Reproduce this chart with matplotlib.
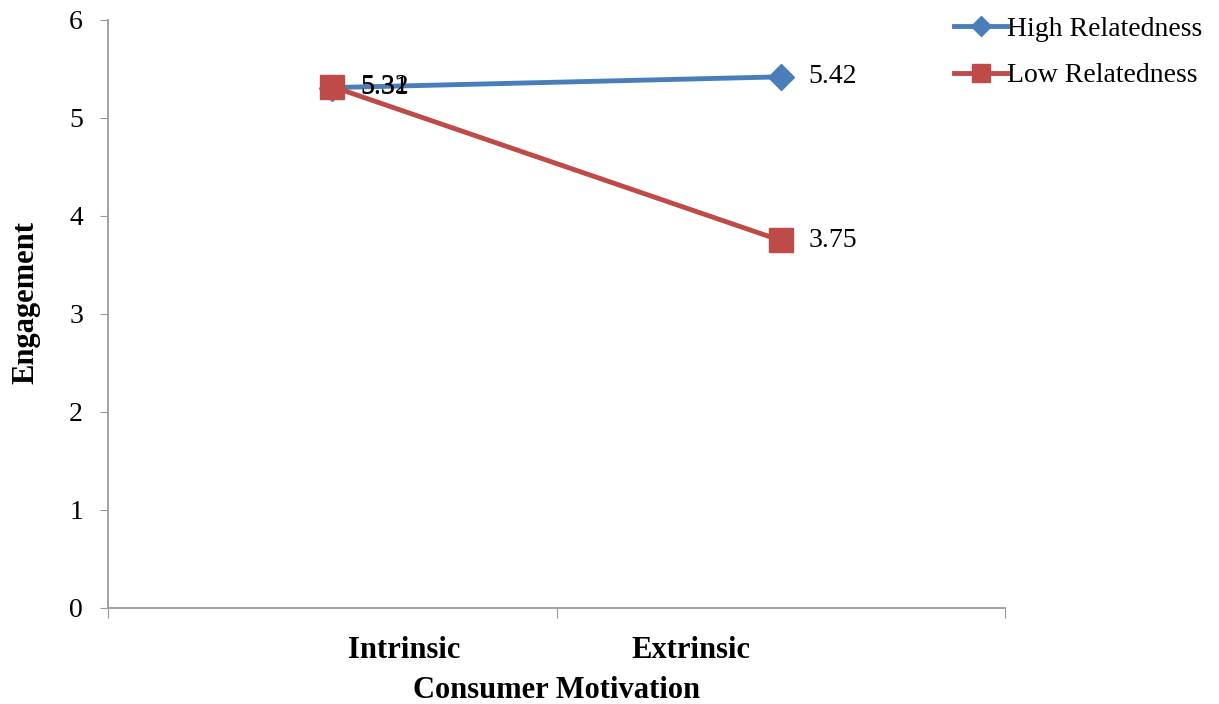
import matplotlib
matplotlib.use("Agg")
import matplotlib.pyplot as plt

categories = ["Intrinsic", "Extrinsic"]
high_relatedness = [5.31, 5.42]
low_relatedness = [5.32, 3.75]
y_ticks = [0, 1, 2, 3, 4, 5, 6]

blue = "#4A7EBB"
red = "#BE4B48"
axis_grey = "#9a9a9a"

plt.rcParams["font.family"] = ["Liberation Serif", "DejaVu Serif"]

fig = plt.figure(figsize=(12.19, 7.04), dpi=100)
ax = fig.add_axes([0.0886, 0.1364, 0.7359, 0.8352])

x = list(range(len(categories)))
ax.plot(x, high_relatedness, color=blue, lw=3.5, marker="D", ms=13,
        label="High Relatedness", zorder=3)
ax.plot(x, low_relatedness, color=red, lw=3.5, marker="s", ms=17,
        label="Low Relatedness", zorder=4)

# value labels beside each point
for xi, v in zip(x, high_relatedness):
    ax.annotate(f"{v:.2f}", (xi, v), xytext=(20, 0), textcoords="offset points",
                va="center", ha="left", fontsize=20, zorder=5)
for xi, v in zip(x, low_relatedness):
    ax.annotate(f"{v:.2f}", (xi, v), xytext=(20, 0), textcoords="offset points",
                va="center", ha="left", fontsize=20, zorder=5)

ax.set_xlim(-0.5, 1.5)
ax.set_ylim(0, 6)
ax.set_yticks(y_ticks)
ax.tick_params(axis="y", labelsize=20, length=6, color=axis_grey, pad=12)

# tick marks on the category boundaries, names sit nearer the middle
ax.set_xticks([-0.5, 0.5, 1.5])
ax.set_xticklabels([])
ax.tick_params(axis="x", length=7, color=axis_grey)
ax.set_xticks([0.16, 0.8], minor=True)
ax.set_xticklabels(categories, minor=True, fontsize=22, fontweight="bold")
ax.tick_params(axis="x", which="minor", length=0, pad=20)

for side in ("top", "right"):
    ax.spines[side].set_visible(False)
for side in ("left", "bottom"):
    ax.spines[side].set_color(axis_grey)
    ax.spines[side].set_linewidth(1.3)

ax.set_xlabel("Consumer Motivation", fontsize=22, fontweight="bold", labelpad=8)
ax.set_ylabel("Engagement", fontsize=22, fontweight="bold")
ax.yaxis.set_label_coords(-0.075, 0.52)

fig.legend(loc="upper right", bbox_to_anchor=(1.0, 1.0), frameon=False,
           fontsize=20, handlelength=1.9, handletextpad=0.0, markerscale=0.75,
           labelspacing=0.75, borderaxespad=0.2)

fig.savefig("out.png", dpi=100)
